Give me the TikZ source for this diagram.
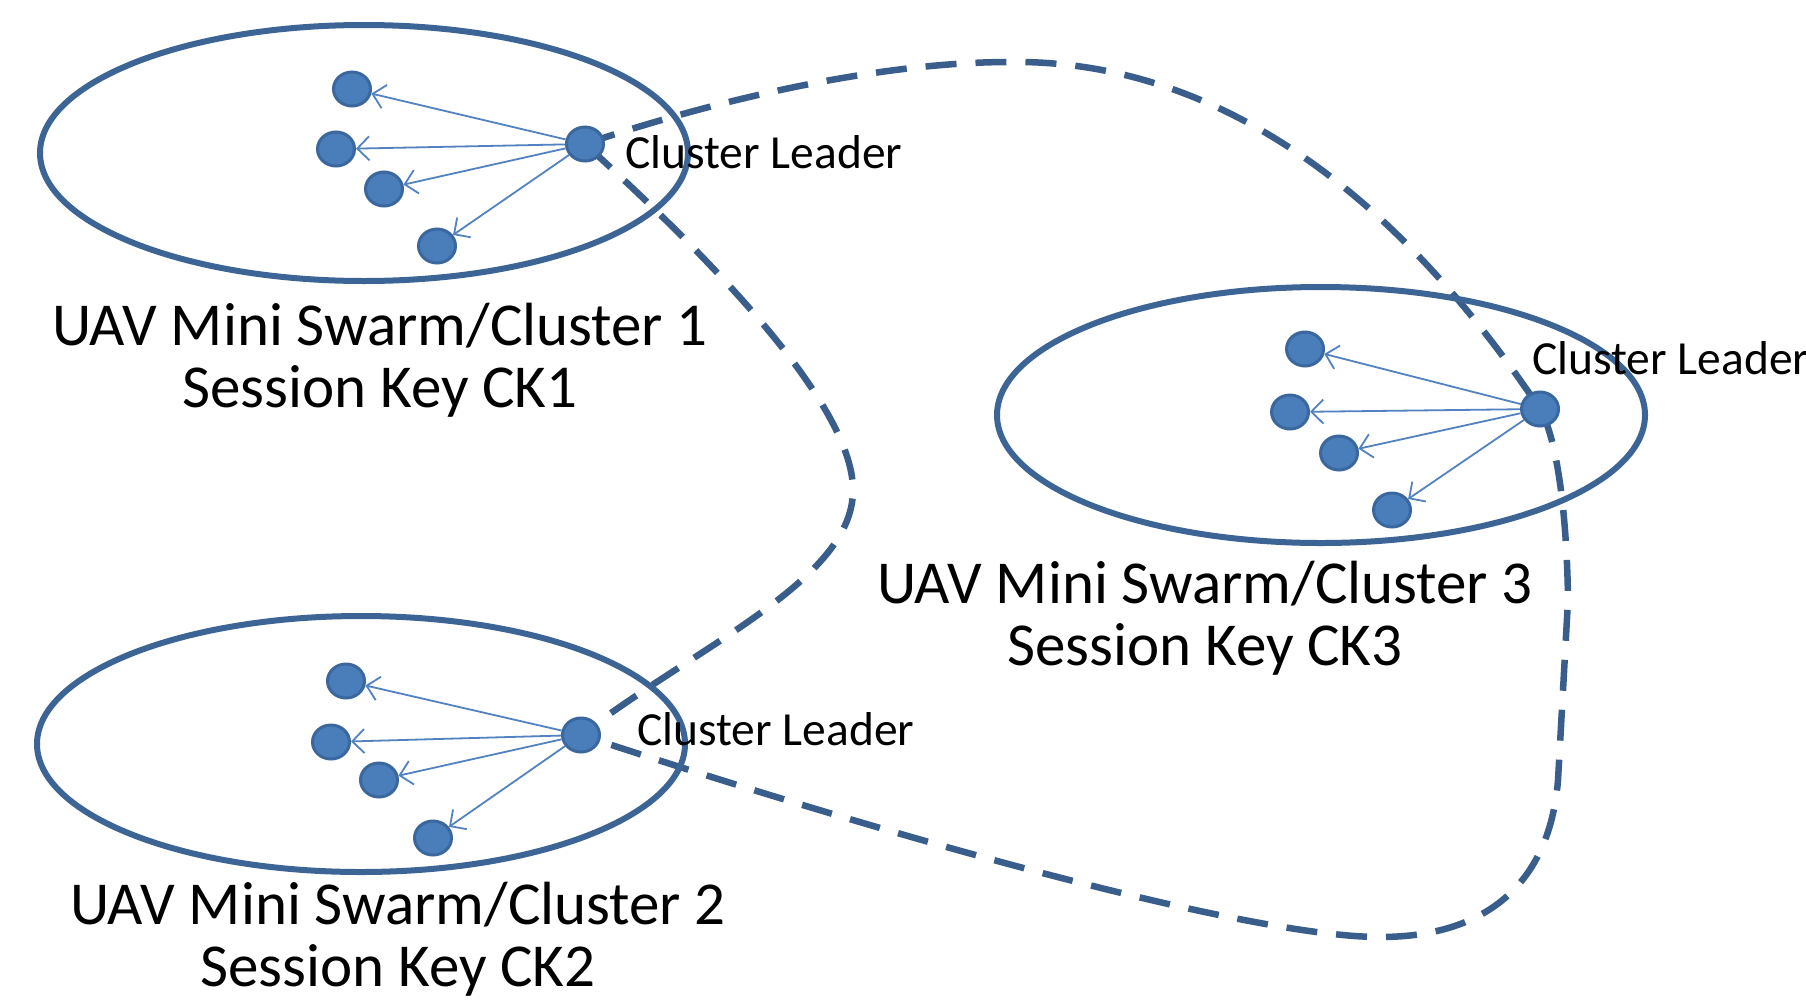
\documentclass[tikz,border=0pt]{standalone}
\usepackage{fontspec}
\setmainfont{Carlito}
\usetikzlibrary{shapes.geometric,arrows.meta,backgrounds}

\definecolor{rim}{HTML}{3C6596}
\definecolor{dotfill}{HTML}{4A7EBB}
\definecolor{dotrim}{HTML}{3A679E}
\definecolor{link}{HTML}{5282C0}
\definecolor{keyline}{HTML}{3A5E8C}

\begin{document}
\begin{tikzpicture}[x=1pt,y=-1pt,
  swarm/.style={ellipse, draw=rim, line width=6pt, minimum width=648pt, minimum height=256pt, inner sep=0pt},
  uav/.style={ellipse, draw=dotrim, fill=dotfill, line width=3pt, minimum width=37pt, minimum height=34pt, inner sep=0pt},
  cast/.style={draw=link, line width=1.8pt, -{Straight Barb[length=12pt,width=24pt,line width=1.8pt]}},
  keyloop/.style={draw=keyline, line width=6.5pt, dash pattern=on 31pt off 19pt},
  leadtag/.style={anchor=west, inner sep=0pt, font=\fontsize{47.5}{50}\selectfont},
  swarmtag/.style={align=center, inner sep=0pt, font=\fontsize{61}{62}\selectfont}]

\useasboundingbox (0,0) rectangle (1806,999);

% the three mini swarms
\node[swarm] (e1) at (364,153) {};
\node[swarm] (e2) at (361,744) {};
\node[swarm] (e3) at (1321,415) {};

% cluster 1
\node[uav] (L1) at (585,144) {};
\node[uav] (a1) at (352,89) {};
\node[uav] (b1) at (336,149) {};
\node[uav] (c1) at (384,189) {};
\node[uav] (d1) at (437,246) {};

% cluster 2
\node[uav] (L2) at (581,735) {};
\node[uav] (a2) at (346,681) {};
\node[uav] (b2) at (331,742) {};
\node[uav] (c2) at (379,780) {};
\node[uav] (d2) at (433,838) {};

% cluster 3
\node[uav] (L3) at (1540,409) {};
\node[uav] (a3) at (1305,349) {};
\node[uav] (b3) at (1290,412) {};
\node[uav] (c3) at (1339,453) {};
\node[uav] (d3) at (1392,510) {};

% leader to member links
\foreach \k in {1,2,3}{
  \foreach \m in {a,b,c,d}{
    \draw[cast] (L\k) -- (\m\k);
  }
}

% way points of the leaders' key loop
\coordinate (crest) at (1010,62);
\coordinate (east1) at (1568,600);
\coordinate (east2) at (1558,780);
\coordinate (trough) at (1380,937);
\coordinate (bulge) at (853,490);

\begin{scope}[on background layer]
\fill[white] (0,0) rectangle (1806,999);
\draw[keyloop] (L1.center) .. controls (700,105) and (870,62) .. (crest)
  .. controls (1170,60) and (1360,140) .. (L3.center)
  .. controls (1558,440) and (1567,520) .. (east1)
  -- (east2)
  .. controls (1550,880) and (1490,937) .. (trough)
  .. controls (1250,937) and (900,840) .. (L2.center)
  .. controls (700,644) and (853,580) .. (bulge)
  .. controls (853,400) and (695,244) .. (L1.center);
\end{scope}

% labels
\node[leadtag] (t1) at (625,152) {Cluster Leader};
\node[leadtag] (t2) at (637,729) {Cluster Leader};
\node[leadtag] (t3) at (1532,358) {Cluster Leader};

\node[swarmtag] (s1) at (380,360) {UAV Mini Swarm/Cluster 1\\Session Key CK1};
\node[swarmtag] (s2) at (398,939) {UAV Mini Swarm/Cluster 2\\Session Key CK2};
\node[swarmtag] (s3) at (1205,618) {UAV Mini Swarm/Cluster 3\\Session Key CK3};
\end{tikzpicture}
\end{document}
